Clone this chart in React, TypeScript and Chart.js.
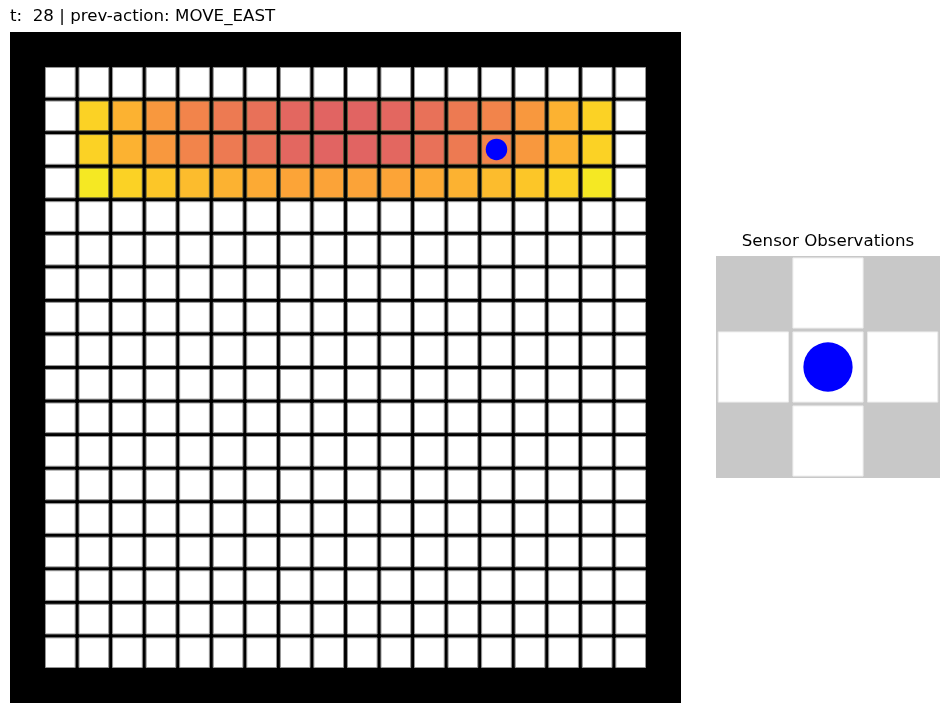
import React, { useEffect, useRef } from "react";
import { Chart, registerables } from "chart.js";

Chart.register(...registerables);

// ---------- data ----------
const STEP = 28;
const PREV_ACTION = "MOVE_EAST";
const GRID_SIZE = 20; // including the wall ring
const HEAT_FIRST_COL = 2;
const HEAT_FIRST_ROW = 2;
const HEAT_ROW_A = [0.91, 0.83, 0.76, 0.7, 0.67, 0.64, 0.61, 0.6, 0.6, 0.61, 0.64, 0.67, 0.7, 0.76, 0.83, 0.91];
const HEAT_ROW_B = [0.91, 0.83, 0.76, 0.7, 0.67, 0.64, 0.61, 0.6, 0.6, 0.61, 0.64, 0.67, 0.7, 0.76, 0.83, 0.91];
const HEAT_ROW_C = [0.96, 0.91, 0.88, 0.855, 0.83, 0.81, 0.795, 0.79, 0.79, 0.795, 0.81, 0.83, 0.855, 0.88, 0.91, 0.96];
const HEAT_ROWS = [HEAT_ROW_A, HEAT_ROW_B, HEAT_ROW_C];
const AGENT_X = 14;
const AGENT_Y = 3;
const SENSOR_TITLE = "Sensor Observations";
const SENSOR_ROW_0 = [0, 1, 0];
const SENSOR_ROW_1 = [1, 1, 1];
const SENSOR_ROW_2 = [0, 1, 0];
const SENSOR_ROWS = [SENSOR_ROW_0, SENSOR_ROW_1, SENSOR_ROW_2];

// matplotlib "plasma" colormap anchor colours
const PLASMA = ["#0d0887", "#41049d", "#6a00a8", "#8f0da4", "#b12a90", "#cc4778", "#e16462", "#f2844b", "#fca636", "#fcce25", "#f0f921"];

function hexToRgb(h: string) {
  return [parseInt(h.slice(1, 3), 16), parseInt(h.slice(3, 5), 16), parseInt(h.slice(5, 7), 16)];
}
function plasma(v: number) {
  const t = Math.max(0, Math.min(1, v)) * (PLASMA.length - 1);
  const i = Math.min(PLASMA.length - 2, Math.floor(t));
  const f = t - i;
  const a = hexToRgb(PLASMA[i]);
  const b = hexToRgb(PLASMA[i + 1]);
  const c = a.map((x, k) => Math.round(x + (b[k] - x) * f));
  return `rgb(${c[0]},${c[1]},${c[2]})`;
}

const FONT = { family: "'DejaVu Sans', sans-serif", size: 16.67, weight: "normal" as const };

const areaBackground = {
  id: "areaBackground",
  beforeDatasetsDraw(chart: any, _args: any, opts: any) {
    const { ctx, chartArea: a } = chart;
    ctx.save();
    ctx.fillStyle = opts.color || "#000";
    ctx.fillRect(a.left, a.top, a.right - a.left, a.bottom - a.top);
    ctx.restore();
  },
};

function cellPx(ctx: any) {
  const s = ctx.chart.scales.x;
  return Math.abs(s.getPixelForValue(1) - s.getPixelForValue(0));
}
const rectRadius = (frac: number) => (ctx: any) => (cellPx(ctx) * frac) / Math.SQRT2;
const circleRadius = (frac: number) => (ctx: any) => cellPx(ctx) * frac;

function baseOptions(min: number, max: number, title: string, align: any, padding: any, titlePad: any, bg: string) {
  return {
    responsive: false,
    animation: false as const,
    events: [],
    layout: { padding },
    scales: {
      x: { type: "linear" as const, min, max, display: false },
      y: { type: "linear" as const, min, max, reverse: true, display: false },
    },
    plugins: {
      legend: { display: false },
      tooltip: { enabled: false },
      title: { display: true, text: title, align, color: "#000", font: FONT, padding: titlePad },
      areaBackground: { color: bg },
    },
  };
}

function mainConfig() {
  const cells: any[] = [];
  for (let y = 1; y < GRID_SIZE - 1; y++) {
    for (let x = 1; x < GRID_SIZE - 1; x++) {
      const row = HEAT_ROWS[y - HEAT_FIRST_ROW];
      const v = row ? row[x - HEAT_FIRST_COL] : undefined;
      cells.push({ x, y, v: v === undefined ? null : v });
    }
  }
  return {
    type: "scatter" as const,
    data: {
      datasets: [
        {
          label: "agent",
          data: [{ x: AGENT_X, y: AGENT_Y }],
          order: 0,
          pointStyle: "circle",
          pointRadius: circleRadius(0.32),
          backgroundColor: "#0000ff",
          borderWidth: 0,
          clip: false,
        },
        {
          label: "cells",
          data: cells,
          order: 1,
          pointStyle: "rect",
          pointRadius: rectRadius(0.885),
          backgroundColor: (c: any) => (c.raw && c.raw.v != null ? plasma(c.raw.v) : "#ffffff"),
          borderColor: (c: any) => (c.raw && c.raw.v != null ? "rgba(90,90,60,0.9)" : "rgba(150,150,150,1)"),
          borderWidth: 1,
          clip: false,
        },
      ],
    },
    options: baseOptions(-0.5, GRID_SIZE - 0.5, `t:  ${STEP} | prev-action: ${PREV_ACTION}`, "start", { left: 10, right: 19, top: 7, bottom: 10 }, { top: 0, bottom: 5 }, "#000000"),
    plugins: [areaBackground],
  };
}

function sensorConfig() {
  const cells: any[] = [];
  SENSOR_ROWS.forEach((row, y) =>
    row.forEach((v, x) => {
      if (v) cells.push({ x, y });
    })
  );
  return {
    type: "scatter" as const,
    data: {
      datasets: [
        {
          label: "agent",
          data: [{ x: 1, y: 1 }],
          order: 0,
          pointStyle: "circle",
          pointRadius: circleRadius(0.33),
          backgroundColor: "#0000ff",
          borderWidth: 0,
          clip: false,
        },
        {
          label: "observed",
          data: cells,
          order: 1,
          pointStyle: "rect",
          pointRadius: rectRadius(0.94),
          backgroundColor: "#ffffff",
          borderColor: "rgba(235,235,235,1)",
          borderWidth: 1,
          clip: false,
        },
      ],
    },
    options: baseOptions(-0.5, 2.5, SENSOR_TITLE, "center", { left: 16, right: 10, top: 12, bottom: 12 }, { top: 0, bottom: 4 }, "#c8c8c8"),
    plugins: [areaBackground],
  };
}

function ChartCanvas({ make, left, top, width, height }: any) {
  const ref = useRef<HTMLCanvasElement | null>(null);
  useEffect(() => {
    if (!ref.current) return;
    const chart = new Chart(ref.current, make() as any);
    return () => chart.destroy();
  }, []);
  return (
    <canvas
      ref={ref}
      width={width}
      height={height}
      style={{ position: "absolute", left, top, width, height }}
    />
  );
}

export default function App() {
  return (
    <div style={{ position: "absolute", left: 0, top: 0, width: 950, height: 713, background: "#fff", overflow: "hidden" }}>
      <ChartCanvas make={mainConfig} left={0} top={0} width={700} height={713} />
      <ChartCanvas make={sensorConfig} left={700} top={220} width={250} height={270} />
    </div>
  );
}
